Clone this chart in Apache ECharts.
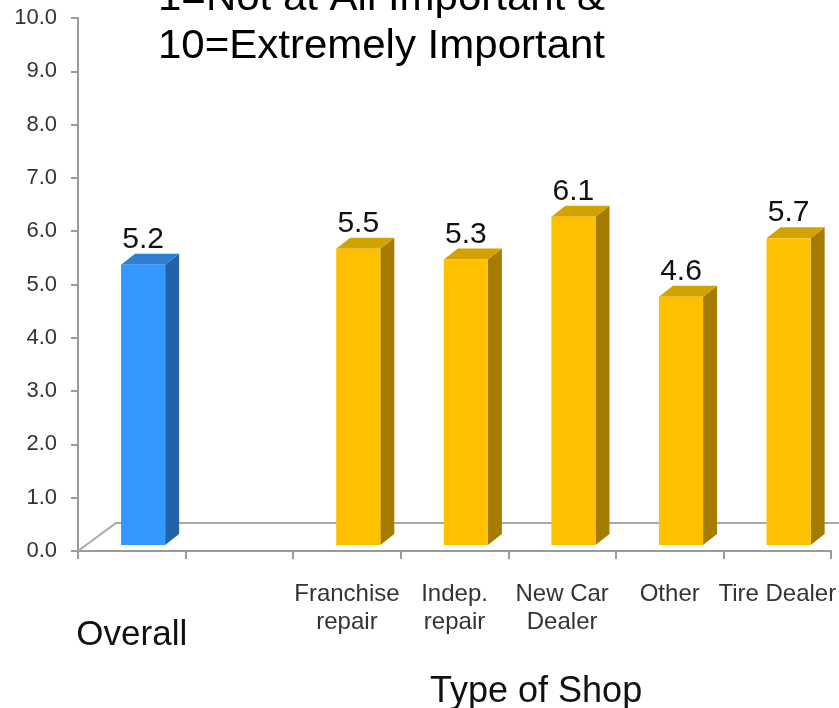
<!DOCTYPE html>
<html>
<head>
<meta charset="utf-8">
<script src="https://cdn.jsdelivr.net/npm/echarts@6/dist/echarts.min.js"></script>
<style>
html,body{margin:0;padding:0;background:#fff;}
#chart{width:839px;height:708px;}
</style>
</head>
<body>
<div id="chart"></div>
<script>
// ---- data ----
const categories = ["Overall", "", "Franchise\nrepair", "Indep.\nrepair", "New Car\nDealer", "Other", "Tire Dealer"];
const overallValues = [[0, 5.2]];
const shopValues = [[2, 5.5], [3, 5.3], [4, 6.1], [5, 4.6], [6, 5.7]];
const yTickLabels = ["0.0","1.0","2.0","3.0","4.0","5.0","6.0","7.0","8.0","9.0","10.0"];
const titleLines = ["1=Not at All Important &", "10=Extremely Important"];
const xAxisTitle = "Type of Shop";

const chart = echarts.init(document.getElementById('chart'), null, {renderer: 'canvas'});

function bar3D(front, side, topC) {
  return function (params, api) {
    const x = api.value(0), v = api.value(1);
    const base = api.coord([x, 0]);
    const top = api.coord([x, v]);
    const bw = api.size([1, 0])[0];
    const fw = bw * 0.41;
    const cx = base[0] + bw * 0.105;
    const x0 = cx - fw / 2, x1 = cx + fw / 2;
    const yb = base[1] - 6, yt = top[1] - 9;
    const dx = 14, dy = -11;
    return {
      type: 'group',
      children: [
        {type: 'polygon', shape: {points: [[x1, yt], [x1 + dx, yt + dy], [x1 + dx, yb + dy], [x1, yb]]}, style: {fill: side}},
        {type: 'polygon', shape: {points: [[x0, yt], [x0 + dx, yt + dy], [x1 + dx, yt + dy], [x1, yt]]}, style: {fill: topC}},
        {type: 'rect', shape: {x: x0, y: yt, width: fw, height: yb - yt}, style: {fill: front}},
        {type: 'text', style: {text: v.toFixed(1), x: cx, y: yt + dy + 1, align: 'center', verticalAlign: 'bottom',
          fontSize: 30, fontFamily: 'Liberation Sans, Arial, sans-serif', fill: '#111'}}
      ]
    };
  };
}

const option = {
  animation: false,
  backgroundColor: '#fff',
  grid: {left: 78, right: 5, top: 18, bottom: 157, containLabel: false},
  xAxis: {
    type: 'category',
    data: categories,
    boundaryGap: true,
    axisLine: {show: true, lineStyle: {color: '#9a9a9a', width: 2}},
    axisTick: {show: true, alignWithLabel: false, interval: 0, length: 8, lineStyle: {color: '#9a9a9a', width: 2}},
    axisLabel: {
      interval: 0, margin: 29, color: '#333',
      fontSize: 24, lineHeight: 28, fontFamily: 'Liberation Sans, Arial, sans-serif',
      formatter: function (val, idx) { return idx === 0 ? '{big|' + val + '}' : val; },
      rich: {big: {fontSize: 35, lineHeight: 110, color: '#111', fontFamily: 'Liberation Sans, Arial, sans-serif'}}
    },
    splitLine: {show: false}
  },
  yAxis: {
    type: 'value', min: 0, max: 10, interval: 1,
    axisLine: {show: true, lineStyle: {color: '#9a9a9a', width: 2}},
    axisTick: {show: true, length: 7, lineStyle: {color: '#9a9a9a', width: 2}},
    axisLabel: {margin: 21, color: '#333', fontSize: 22, fontFamily: 'Liberation Sans, Arial, sans-serif',
      formatter: function (v) { return yTickLabels[Math.round(v)]; }},
    splitLine: {show: false}
  },
  graphic: [
    {type: 'text', left: 158, top: -21, style: {text: titleLines[0], fontSize: 40, fontFamily: 'Liberation Sans, Arial, sans-serif', fill: '#000'}, scaleX: 1.05},
    {type: 'text', left: 158, top: 27, style: {text: titleLines[1], fontSize: 40, fontFamily: 'Liberation Sans, Arial, sans-serif', fill: '#000'}, scaleX: 1.05},
    {type: 'text', left: 430, top: 674, style: {text: xAxisTitle, fontSize: 36, fontFamily: 'Liberation Sans, Arial, sans-serif', fill: '#111'}}
  ],
  series: [
    {
      type: 'custom', z: 1, silent: true,
      data: [[0, 0]],
      renderItem: function (params, api) {
        const cs = params.coordSys;
        const o = api.coord([0, 0]);
        const left = cs.x, yb = o[1];
        const ddx = 38, ddy = -28;
        return {
          type: 'group',
          children: [
            {type: 'polyline', shape: {points: [[left, yb], [left + ddx, yb + ddy], [cs.x + cs.width + 20, yb + ddy]]},
              style: {stroke: '#a8a8a8', lineWidth: 2, fill: null}}
          ]
        };
      }
    },
    {type: 'custom', z: 3, data: overallValues, renderItem: bar3D('#3399ff', '#2262a8', '#2b7fd6')},
    {type: 'custom', z: 3, data: shopValues, renderItem: bar3D('#ffc000', '#a67c00', '#d4a200')}
  ]
};
chart.setOption(option);
</script>
</body>
</html>
